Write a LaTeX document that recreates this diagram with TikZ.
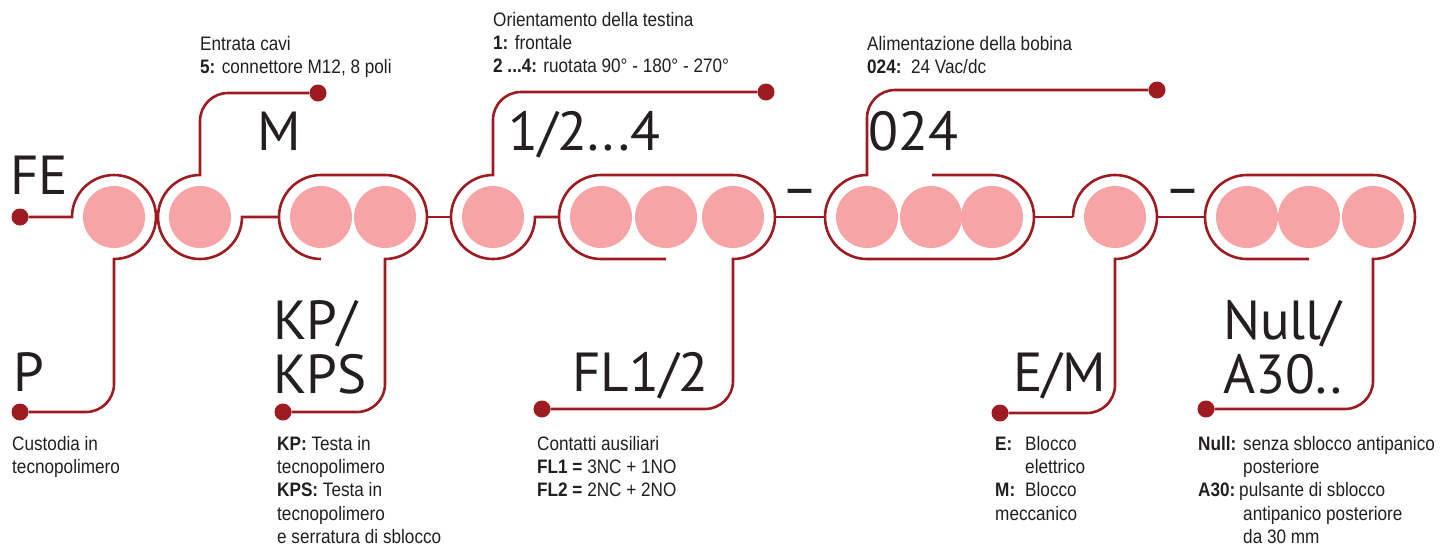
\documentclass[tikz,border=0pt]{standalone}
\usepackage{fontspec}
\setmainfont{Liberation Sans}
\newfontfamily\condf[FakeStretch=0.88]{Liberation Sans}
\newfontfamily\bigfam{PT Sans}
\definecolor{dred}{HTML}{9E1B22}
\definecolor{beadc}{HTML}{F6A4A6}
\definecolor{ink}{HTML}{231F20}
\begin{document}
\begin{tikzpicture}[x=1pt,y=1pt,
  wire/.style={draw=dred, line width=2.6pt},
  pin/.style={circle, fill=dred, inner sep=0pt, minimum size=17pt},
  bead/.style={circle, fill=beadc, inner sep=0pt, minimum size=62pt},
  big/.style={font=\bigfam\fontsize{55}{52}\selectfont, text=ink, inner sep=0pt, anchor=base west},
  note/.style={font=\condf\fontsize{19.5}{23.4}\selectfont, text=ink, inner sep=0pt, anchor=base west},
  sep/.style={font=\bigfam\fontsize{56}{52}\selectfont, text=ink, inner sep=0pt, anchor=base}]
\useasboundingbox (0,0) rectangle (1449,-550);
\fill[white] (0,0) rectangle (1449,-550);
% beads
\foreach \n/\x in {c1/114,c2/200,c3/321,c4/385,c5/493,c6/601,c7/666,c8/733,c9/867,c10/931,c11/992,c12/1115,c13/1247,c14/1309,c15/1373}
  \node[bead] (\n) at (\x,-217) {};
% pins
\node[pin] (pFE) at (20,-217) {};
\node[pin] (pP) at (20,-412) {};
\node[pin] (pM) at (318,-93) {};
\node[pin] (pKP) at (283,-412) {};
\node[pin] (p124) at (766,-92) {};
\node[pin] (pFL) at (542,-409) {};
\node[pin] (p024) at (1157,-90) {};
\node[pin] (pEM) at (1000,-413) {};
\node[pin] (pNull) at (1206,-409) {};
% wires
\draw[wire] (pFE) -- (72,-217) arc[start angle=180,end angle=-90,radius=42] -- (114,-384) arc[start angle=0,end angle=-90,radius=28] -- (pP);
\draw[wire] (pM) -- (228,-93) arc[start angle=90,end angle=180,radius=28] -- (200,-175) arc[start angle=90,end angle=360,radius=42] -- (279,-217);
\draw[wire] (321,-259) arc[start angle=270,end angle=90,radius=42] -- (385,-175) arc[start angle=90,end angle=-90,radius=42] -- (385,-384) arc[start angle=0,end angle=-90,radius=28] -- (pKP);
\draw[wire] (427,-217) -- (451,-217);
\draw[wire] (p124) -- (521,-92) arc[start angle=90,end angle=180,radius=28] -- (493,-175) arc[start angle=90,end angle=360,radius=42] -- (559,-217);
\draw[wire] (666,-259) -- (601,-259) arc[start angle=270,end angle=90,radius=42] -- (733,-175) arc[start angle=90,end angle=-90,radius=42] -- (733,-381) arc[start angle=0,end angle=-90,radius=28] -- (pFL);
\draw[wire] (775,-217) -- (825,-217);
\draw[wire] (p024) -- (895,-90) arc[start angle=90,end angle=180,radius=28] -- (867,-175) arc[start angle=90,end angle=270,radius=42] -- (992,-259) arc[start angle=-90,end angle=90,radius=42] -- (932,-175);
\draw[wire] (1034,-217) -- (1073,-217);
\draw[wire] (1073,-217) arc[start angle=180,end angle=-90,radius=42] -- (1115,-385) arc[start angle=0,end angle=-90,radius=28] -- (pEM);
\draw[wire] (1157,-217) -- (1205,-217);
\draw[wire] (1309,-259) -- (1247,-259) arc[start angle=270,end angle=90,radius=42] -- (1373,-175) arc[start angle=90,end angle=-90,radius=42] -- (1373,-381) arc[start angle=0,end angle=-90,radius=28] -- (pNull);
% separators
\node[sep] (d1) at (800,-207) {–};
\node[sep] (d2) at (1183,-207) {–};
% big labels
\node[big] (lFE) at (10,-194) {FE};
\node[big] (lM) at (257,-150) {M};
\node[big] (l124) at (508,-150) {1/2...4};
\node[big] (l024) at (868,-150) {024};
\node[big] (lP) at (13,-391) {P};
\node[big] (lKP) at (273,-339) {\begin{tabular}[t]{@{}l@{}}KP/\\KPS\end{tabular}};
\node[big] (lFL) at (572,-391) {FL1/2};
\node[big] (lEM) at (1013,-391) {E/M};
\node[big] (lNull) at (1223,-339) {\begin{tabular}[t]{@{}l@{}}Null/\\A30..\end{tabular}};
% notes
\node[note] (nEntrata) at (200,-50) {\begin{tabular}[t]{@{}l@{}}Entrata cavi\\\textbf{5:} connettore M12, 8 poli\end{tabular}};
\node[note] (nOrient) at (493,-26) {\begin{tabular}[t]{@{}l@{}}Orientamento della testina\\\textbf{1:} frontale\\\textbf{2 ...4:} ruotata 90° - 180° - 270°\end{tabular}};
\node[note] (nAlim) at (867,-50) {\begin{tabular}[t]{@{}l@{}}Alimentazione della bobina\\\textbf{024:}\ \ 24 Vac/dc\end{tabular}};
\node[note] (nCust) at (12,-450) {\begin{tabular}[t]{@{}l@{}}Custodia in\\tecnopolimero\end{tabular}};
\node[note] (nKP) at (277,-450) {\begin{tabular}[t]{@{}l@{}}\textbf{KP:} Testa in\\tecnopolimero\\\textbf{KPS:} Testa in\\tecnopolimero\\e serratura di sblocco\end{tabular}};
\node[note] (nFL) at (537,-450) {\begin{tabular}[t]{@{}l@{}}Contatti ausiliari\\\textbf{FL1 =} 3NC + 1NO\\\textbf{FL2 =} 2NC + 2NO\end{tabular}};
\node[note] (nEM) at (995,-450) {\begin{tabular}[t]{@{}l@{}}\makebox[30pt][l]{\textbf{E:}}Blocco\\\hspace{30pt}elettrico\\\makebox[30pt][l]{\textbf{M:}}Blocco\\meccanico\end{tabular}};
\node[note] (nNull) at (1198,-450) {\begin{tabular}[t]{@{}l@{}}\makebox[45pt][l]{\textbf{Null:}}senza sblocco antipanico\\\hspace{45pt}posteriore\\\makebox[41pt][l]{\textbf{A30:}}pulsante di sblocco\\\hspace{45pt}antipanico posteriore\\\hspace{45pt}da 30 mm\end{tabular}};
\end{tikzpicture}
\end{document}
